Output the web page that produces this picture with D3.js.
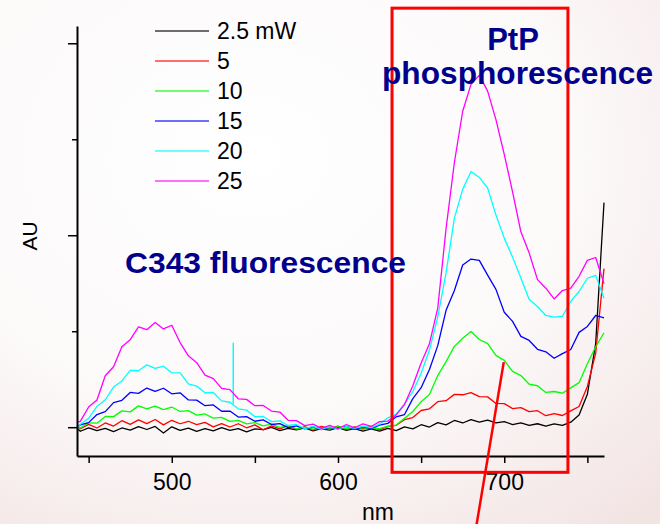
<!DOCTYPE html>
<html>
<head>
<meta charset="utf-8">
<script src="https://cdn.jsdelivr.net/npm/d3@7"></script>
<style>
  body { margin: 0; background: #fff; }
  text { font-family: "Liberation Sans", Arial, sans-serif; }
</style>
</head>
<body>
<script>
// wavelength grid (nm)
var wavelengths = [443,445,450,455,460,465,470,475,480,485,490,495,500,505,510,515,520,525,530,535,540,545,550,555,560,565,570,575,580,585,590,595,600,605,610,615,620,625,630,635,640,645,650,655,660,665,670,675,680,685,690,695,700,705,710,715,720,725,730,735,740,745,750,755,760];

// emission (AU) per laser power
var p2_5 = [-0.5,-2.1,-0.3,-1.8,-0.6,-2.3,-0.4,-1.5,0.3,-1.2,0.4,-3.0,0.2,-1.7,-0.5,-2.2,-0.8,-1.9,-0.2,-1.6,-0.7,-2.4,-0.9,-1.3,-0.1,-1.8,-0.6,-1.4,-0.3,-1.9,-0.8,-1.5,-0.2,-1.6,-0.7,-2.0,-0.9,-2.1,-0.6,-1.8,0.2,-0.9,1.3,0.1,2.4,1.2,3.5,2.2,3.9,2.6,3.7,2.3,2.9,1.4,2.3,0.9,1.8,0.6,1.7,0.9,2.6,6.3,17.2,43.6,117];
var p5 = [1.2,-0.8,1.5,-0.4,2.2,0.6,3.4,1.5,3.8,1.9,4.0,1.2,3.6,1.8,3.1,1.3,2.5,0.2,1.9,0.1,1.8,-0.3,1.2,-1.4,0.7,-0.9,0.8,-1.2,0.3,-1.5,0.4,-0.7,0.6,-1.3,0.2,-0.9,0.5,-1.4,0.4,1.0,3.9,5.0,8.7,9.6,13.3,13.8,17.1,16.9,18.0,15.9,15.8,12.4,12.3,9.7,10.2,8.1,8.6,6.0,7.1,6.1,8.5,10.8,21.2,38.5,82.6];
var p10 = [0.2,-0.4,2.3,2.1,5.6,5.5,8.5,8.0,11.1,9.6,11.0,9.2,10.5,8.2,8.6,6.3,6.9,4.7,5.1,3.0,3.6,1.7,2.4,0.7,1.6,-0.1,0.8,-0.8,0.1,-1.0,-0.2,-0.9,0.3,-0.7,-0.1,-1.1,-0.3,-0.8,0.5,1.1,4.6,8.2,13.3,17.0,26.9,34.2,42.1,46.3,49.9,45.7,43.5,37.4,34.8,29.1,26.9,22.4,21.6,18.1,18.6,17.7,20.5,23.2,33.1,41.9,49.2];
var p15 = [0.3,1.2,2.4,6.6,8.1,12.8,14.0,18.1,17.6,20.4,18.7,20.3,17.4,17.9,14.2,14.1,11.2,11.6,8.3,8.4,5.3,5.5,3.1,3.8,1.4,1.9,-0.2,0.7,-0.9,0.2,-1.2,-0.1,-0.8,0.4,-1.0,0.1,-0.6,1.1,2.0,5.4,6.6,14.9,20.6,30.1,42.5,60.9,71.2,84.5,87.6,86.9,79.2,71.8,59.9,55.1,47.3,45.2,40.6,39.3,35.9,38.3,40.5,49.4,52.5,58.2,56.9];
var p20 = [-0.5,1.5,4.6,10.8,14.3,20.9,24.1,29.6,29.4,32.5,30.6,31.8,28.4,28.3,22.6,21.4,17.9,18.1,13.7,13.0,9.6,8.9,5.5,5.6,2.9,3.3,0.9,1.4,-0.7,0.4,-1.1,0.2,-0.9,0.3,-0.6,0.5,-0.2,1.6,4.9,6.8,12.2,18.6,28.1,40.2,57.5,80.4,108.9,123.9,133.2,130.1,124.6,110.5,98.5,88.6,77.7,66.5,62.9,58.2,57.3,57.8,65.5,70.7,77.6,79.1,67.2];
var p25 = [2.5,3.0,10.5,14.2,26.8,31.5,41.9,45.6,52.3,50.8,54.6,51.2,53.1,44.1,37.2,33.6,27.1,25.3,20.2,19.6,14.8,14.5,11.2,11.3,8.4,7.9,3.6,3.4,0.8,1.6,-0.6,0.9,-0.8,1.4,-0.3,1.7,0.4,2.9,3.2,6.4,11.8,21.6,33.4,43.5,62.0,103.5,137.9,164.6,178.6,183.4,175.1,160.2,142.1,122.6,101.8,90.7,76.9,72.4,66.8,71.2,72.5,78.6,86.9,88.4,74.8];

// one sharp spike in the 20 mW trace
var spikeNm = 537;
var spikeAU = [12, 44];

var seriesNames = ['2.5 mW','5','10','15','20','25'];
var seriesColors = ['#000000','#ff0000','#00ff00','#0000ff','#00ffff','#ff00ff'];
var seriesValues = [p2_5, p5, p10, p15, p20, p25];

var xTicks = [450,500,550,600,650,700,750];
var xLabels = [500,600,700];
var yMajor = [0,100,200];
var yMinor = [50,150];

// highlight box and pointer (data units)
var boxNm = [632.5, 738.3];
var boxAU = [218.3, -23.5];
var pointerNm = [699.7, 683.3];
var pointerAU = [33.9, -51];

var W = 660, H = 524;
var svg = d3.select('body').append('svg').attr('width',W).attr('height',H);

var defs = svg.append('defs');
var grad = defs.append('radialGradient').attr('id','bg')
  .attr('cx','38%').attr('cy','30%').attr('r','90%');
grad.append('stop').attr('offset','0%').attr('stop-color','#ffffff');
grad.append('stop').attr('offset','55%').attr('stop-color','#fcf9f9');
grad.append('stop').attr('offset','100%').attr('stop-color','#f3e4e4');
svg.append('rect').attr('width',W).attr('height',H).attr('fill','url(#bg)');

var x = d3.scaleLinear().domain([443,760]).range([77,604]);
var y = d3.scaleLinear().domain([-15,209]).range([456,26]);

// traces
var line = d3.line()
  .x(function(d){ return x(d[0]); })
  .y(function(d){ return y(d[1]); });

var traces = svg.append('g').attr('id','traces');
seriesValues.forEach(function(vals, i){
  var pts = wavelengths.map(function(w, j){ return [w, vals[j]]; });
  traces.append('path').datum(pts)
    .attr('d', line)
    .attr('fill','none')
    .attr('stroke', seriesColors[i])
    .attr('stroke-width',1.3)
    .attr('stroke-linejoin','round');
  if (i == 4) {
    traces.append('line')
      .attr('x1',x(spikeNm)).attr('x2',x(spikeNm))
      .attr('y1',y(spikeAU[0])).attr('y2',y(spikeAU[1]))
      .attr('stroke',seriesColors[i]).attr('stroke-width',1.5);
  }
});

// axes
var xAxis = d3.axisBottom(x).tickValues(xTicks).tickSize(7).tickSizeOuter(0).tickPadding(11)
  .tickFormat(function(d){ return xLabels.indexOf(d) >= 0 ? d : ''; });
var gx = svg.append('g').attr('transform','translate(0,'+y(-15)+')').call(xAxis);
gx.select('.domain').attr('stroke','#000').attr('stroke-width',2);
gx.selectAll('.tick line').attr('stroke','#000').attr('stroke-width',1.5);
gx.selectAll('.tick text').attr('font-size',23).attr('fill','#000')
  .style('font-family','"Liberation Sans", Arial, sans-serif');

var yAxis = d3.axisLeft(y).tickValues(yMajor.concat(yMinor)).tickSize(9).tickSizeOuter(0).tickFormat('');
var gy = svg.append('g').attr('transform','translate('+x(443)+',0)').call(yAxis);
gy.select('.domain').attr('stroke','#000').attr('stroke-width',2);
gy.selectAll('.tick line').attr('stroke','#000').attr('stroke-width',1.5)
  .attr('x2', function(d){ return yMinor.indexOf(d) >= 0 ? -5 : -9; });

svg.append('text').attr('x',378).attr('y',520).attr('text-anchor','middle')
  .attr('font-size',23).text('nm');
svg.append('text').attr('transform','translate(37,236) rotate(-90)').attr('text-anchor','middle')
  .attr('font-size',21).text('AU');

// legend
var legend = svg.append('g').attr('id','legend');
seriesNames.forEach(function(name, i){
  var ly = 31 + i*30;
  legend.append('line').attr('x1',155).attr('x2',209).attr('y1',ly).attr('y2',ly)
    .attr('stroke',seriesColors[i]).attr('stroke-width',1.6).attr('opacity',0.75);
  legend.append('text').attr('x',217).attr('y',ly+8).attr('font-size',23).text(name);
});

// annotations
svg.append('rect')
  .attr('x',x(boxNm[0])).attr('y',y(boxAU[0]))
  .attr('width',x(boxNm[1])-x(boxNm[0])).attr('height',y(boxAU[1])-y(boxAU[0]))
  .attr('fill','none').attr('stroke','#ff0000').attr('stroke-width',3);
svg.append('line')
  .attr('x1',x(pointerNm[0])).attr('y1',y(pointerAU[0]))
  .attr('x2',x(pointerNm[1])).attr('y2',y(pointerAU[1]))
  .attr('stroke','#ff0000').attr('stroke-width',2.5);

svg.append('text').attr('x',125).attr('y',273).attr('font-size',30).attr('font-weight','bold')
  .attr('fill','#00008c').attr('textLength',281).attr('lengthAdjust','spacingAndGlyphs')
  .text('C343 fluorescence');
svg.append('text').attr('x',513).attr('y',50).attr('text-anchor','middle')
  .attr('font-size',31).attr('font-weight','bold').attr('fill','#00008c').text('PtP');
svg.append('text').attr('x',382).attr('y',84).attr('font-size',31).attr('font-weight','bold')
  .attr('fill','#00008c').attr('textLength',271).attr('lengthAdjust','spacingAndGlyphs')
  .text('phosphorescence');
</script>
</body>
</html>
